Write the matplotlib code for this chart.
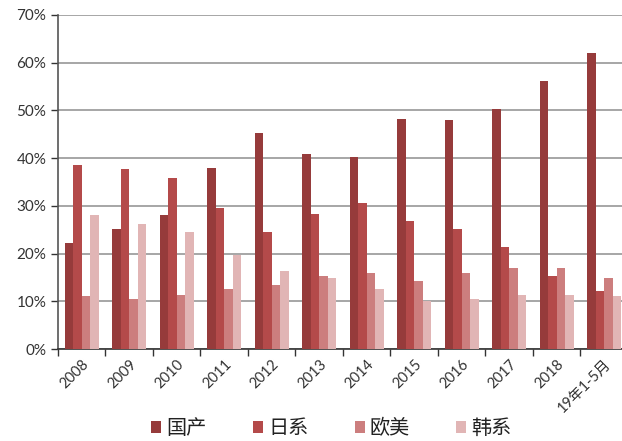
import matplotlib
matplotlib.use("Agg")
import matplotlib.pyplot as plt
import numpy as np

plt.rcParams['font.family'] = ['Lato', 'Noto Sans CJK SC', 'DejaVu Sans']

categories = ['2008', '2009', '2010', '2011', '2012', '2013', '2014', '2015',
              '2016', '2017', '2018', '19年1-5月']
series_names = ['国产', '日系', '欧美', '韩系']
domestic = [22.2, 25.1, 28.0, 37.9, 45.2, 40.9, 40.3, 48.1, 47.9, 50.2, 56.1, 62.0]
japanese = [38.6, 37.7, 35.9, 29.5, 24.5, 28.3, 30.7, 26.9, 25.1, 21.3, 15.2, 12.2]
western = [11.1, 10.5, 11.4, 12.5, 13.4, 15.4, 16.0, 14.3, 16.0, 17.0, 17.0, 14.9]
korean = [28.0, 26.3, 24.5, 19.6, 16.3, 14.9, 12.5, 10.1, 10.5, 11.4, 11.4, 11.1]
y_ticks = [0, 10, 20, 30, 40, 50, 60, 70]

colors = ['#963B3B', '#B44A4A', '#CC7E7E', '#E1B5B5']
series = [domestic, japanese, western, korean]

fig = plt.figure(figsize=(6.22, 4.41), dpi=100)
ax = fig.add_axes([0.0932, 0.2086, 0.9164, 0.7574])

x = np.arange(len(categories))
w = 0.18
for i, (vals, c, name) in enumerate(zip(series, colors, series_names)):
    ax.bar(x + (i - 1.5) * w, vals, width=w, color=c, label=name, zorder=3,
           edgecolor='none')

ax.set_xlim(-0.5, len(categories) - 0.5)
ax.set_ylim(0, 70)
ax.set_yticks(y_ticks)
ax.set_yticklabels([f'{v}%' for v in y_ticks], fontsize=11, color='#333333')
ax.yaxis.grid(True, color='#A6A6A6', linewidth=1.4, zorder=0)
ax.set_axisbelow(True)

ax.set_xticks(x)
ax.set_xticklabels(categories, rotation=45, ha='right', va='top',
                   rotation_mode='anchor', fontsize=10.5, color='#333333')
ax.tick_params(axis='x', which='major', length=0, pad=6)
ax.set_xticks(np.arange(-0.5, len(categories) + 0.5, 1), minor=True)
ax.tick_params(axis='x', which='minor', length=5, width=1, color='#333333', direction='out')
ax.tick_params(axis='y', length=5, width=1, color='#333333', direction='out')

for s in ['top', 'right']:
    ax.spines[s].set_visible(False)
ax.spines['left'].set_color('#555555')
ax.spines['left'].set_linewidth(1.2)
ax.spines['bottom'].set_color('#333333')
ax.spines['bottom'].set_linewidth(1.2)

leg = fig.legend(loc='center', bbox_to_anchor=(0.533, 0.028), ncol=4,
                 frameon=False, handlelength=0.5, handleheight=0.5,
                 handletextpad=0.25, columnspacing=2.3, borderpad=0,
                 prop={'family': ['Noto Sans CJK SC'], 'size': 14.5})
for t in leg.get_texts():
    t.set_color('#222222')

fig.savefig('out.png', dpi=100)
